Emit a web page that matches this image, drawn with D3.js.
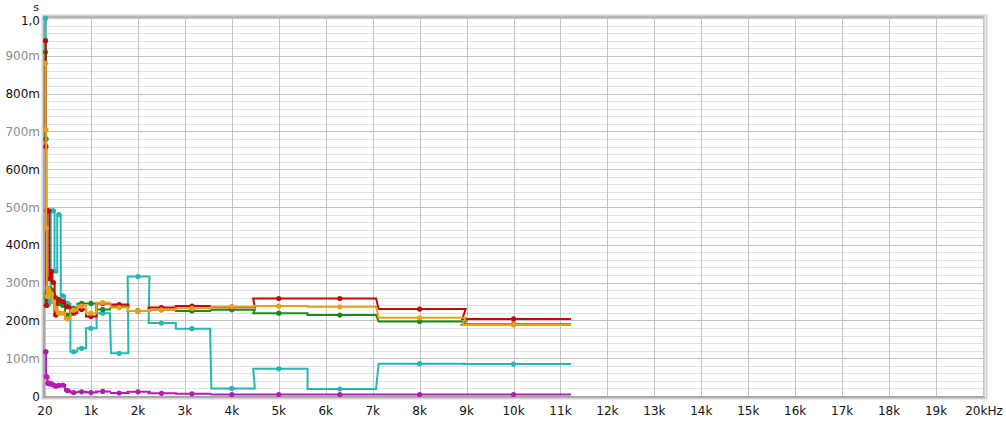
<!DOCTYPE html>
<html><head><meta charset="utf-8">
<script src="https://cdn.jsdelivr.net/npm/d3@7"></script>
<style>
body{margin:0;background:#fff;}
svg{display:block;}
text{font-family:"DejaVu Sans",Arial,sans-serif;font-size:12px;}
</style></head>
<body>
<svg id="c" width="1006" height="421"></svg>
<script>
// 1/3-octave band centres (Hz)
const bands = [31.5,40,50,63,80,100,125,160,200,250,315,400,500,630,800,1000,1250,1600,2000,2500,3150,4000,5000,6300,8000,10000];
// decay times per band (s)
const redVals     = [0.94,0.66,0.24,0.49,0.49,0.49,0.31,0.33,0.30,0.214,0.255,0.25,0.236,0.219,0.229,0.21,0.245,0.242,0.225,0.234,0.238,0.235,0.258,0.258,0.23,0.204];
const greenVals   = [0.91,0.68,0.26,0.27,0.28,0.28,0.285,0.28,0.27,0.26,0.245,0.24,0.214,0.232,0.245,0.245,0.229,0.237,0.225,0.228,0.225,0.228,0.219,0.214,0.197,0.19];
const orangeVals  = [0.88,0.705,0.444,0.263,0.286,0.28,0.272,0.27,0.25,0.232,0.219,0.219,0.204,0.227,0.238,0.219,0.247,0.234,0.225,0.228,0.232,0.236,0.238,0.236,0.207,0.188];
const cyanVals    = [1.0,0.68,0.24,0.25,0.24,0.245,0.25,0.49,0.49,0.33,0.48,0.265,0.245,0.117,0.126,0.179,0.219,0.113,0.316,0.193,0.178,0.02,0.072,0.0185,0.0856,0.0847];
const magentaVals = [0.117,0.117,0.051,0.05,0.034,0.034,0.032,0.032,0.029,0.026,0.028,0.029,0.014,0.009,0.011,0.009,0.012,0.008,0.011,0.007,0.006,0.004,0.004,0.004,0.004,0.004];

const xTicks = [20,1000,2000,3000,4000,5000,6000,7000,8000,9000,10000,11000,12000,13000,14000,15000,16000,17000,18000,19000,20000];
const xTickLabels = ["20","1k","2k","3k","4k","5k","6k","7k","8k","9k","10k","11k","12k","13k","14k","15k","16k","17k","18k","19k","20kHz"];
const yTicks = [0,0.1,0.2,0.3,0.4,0.5,0.6,0.7,0.8,0.9,1.0];
const yTickLabels = ["0","100m","200m","300m","400m","500m","600m","700m","800m","900m","1,0"];

const series = [
  {name:"magenta", color:"#b41cb4", vals:magentaVals},
  {name:"cyan", color:"#25b6b6", vals:cyanVals},
  {name:"green", color:"#1e8a1e", vals:greenVals},
  {name:"red", color:"#c40808", vals:redVals},
  {name:"orange", color:"#e8a016", vals:orangeVals}
];

const svg = d3.select("#c");
const x = d3.scaleLinear().domain([20,20000]).range([45,983]);
const y = d3.scaleLinear().domain([0,1]).range([396,18]);

// frame
svg.append("rect").attr("x",42.5).attr("y",15.5).attr("width",944).attr("height",383)
  .attr("fill","none").attr("stroke","#d4d4d4").attr("stroke-width",2);
svg.append("rect").attr("x",45).attr("y",18).attr("width",938).attr("height",378).attr("fill","#fff");

// minor y grid every 20m
const minor = d3.range(0,1.0001,0.02);
svg.append("g").selectAll("line").data(minor).join("line")
  .attr("x1",45).attr("x2",983).attr("y1",d=>Math.round(y(d))+0.5).attr("y2",d=>Math.round(y(d))+0.5)
  .attr("stroke","#e2e2e2").attr("stroke-width",1);
// major grid
svg.append("g").selectAll("line").data(yTicks).join("line")
  .attr("x1",45).attr("x2",983).attr("y1",d=>Math.round(y(d))+0.5).attr("y2",d=>Math.round(y(d))+0.5)
  .attr("stroke","#c4c4c4").attr("stroke-width",1);
svg.append("g").selectAll("line").data(xTicks).join("line")
  .attr("y1",18).attr("y2",396).attr("x1",d=>Math.round(x(d))+0.5).attr("x2",d=>Math.round(x(d))+0.5)
  .attr("stroke","#c4c4c4").attr("stroke-width",1);

// border lines
svg.append("line").attr("x1",44).attr("x2",44).attr("y1",17).attr("y2",397).attr("stroke","#a8a8a8").attr("stroke-width",2);
svg.append("line").attr("x1",44).attr("x2",984).attr("y1",17).attr("y2",17).attr("stroke","#b8b8b8").attr("stroke-width",2);
svg.append("line").attr("x1",43).attr("x2",985).attr("y1",397).attr("y2",397).attr("stroke","#9a9a9a").attr("stroke-width",1.5);
svg.append("line").attr("x1",984).attr("x2",984).attr("y1",17).attr("y2",397).attr("stroke","#c8c8c8").attr("stroke-width",1.5);

// axes labels
svg.append("g").selectAll("text").data(yTicks).join("text")
  .attr("x",40).attr("y",d=> d===1 ? y(d)+6.5 : y(d)+4.5).attr("text-anchor","end")
  .attr("fill",(d,i)=> i%2===1 ? "#8c8c8c" : "#111")
  .text((d,i)=>yTickLabels[i]);
svg.append("text").attr("x",36).attr("y",10.5).attr("text-anchor","middle").attr("fill","#111")
  .style("font-size","11px").text("s");
svg.append("g").selectAll("text").data(xTicks).join("text")
  .attr("x",(d,i)=> i===xTicks.length-1 ? x(d)+1 : x(d)).attr("y",415).attr("text-anchor","middle")
  .attr("fill","#111").text((d,i)=>xTickLabels[i]);

// step lines
const k = Math.pow(2,1/6);
function stepPoints(vals){
  const pts=[];
  bands.forEach((f,i)=>{ pts.push([f/k, vals[i]]); pts.push([f*k, vals[i]]); });
  return pts;
}
const line = d3.line().x(d=>x(d[0])).y(d=>y(d[1]));
const plot = svg.append("g");
series.forEach(s=>{
  const g = plot.append("g");
  g.append("path").attr("d",line(stepPoints(s.vals))).attr("fill","none")
    .attr("stroke",s.color).attr("stroke-width",2).attr("stroke-linejoin","miter");
  g.selectAll("circle").data(bands).join("circle")
    .attr("cx",d=>x(d)).attr("cy",(d,i)=>y(s.vals[i])).attr("r",2.6).attr("fill",s.color);
});
</script>
</body></html>
